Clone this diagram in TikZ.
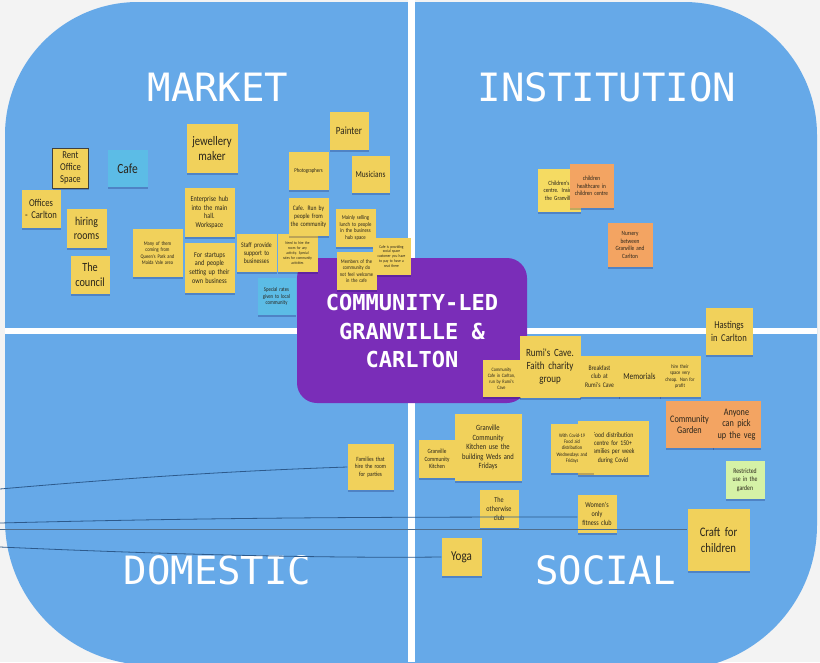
\documentclass[tikz,border=0pt]{standalone}
\usepackage{fontspec}
\setmainfont{Carlito}
\newfontfamily\handf[FakeStretch=0.82]{Carlito}
\newfontfamily\monof{DejaVu Sans Mono}
\usetikzlibrary{shadows}
\definecolor{bg}{HTML}{F3F3F3}
\definecolor{qblue}{HTML}{66A9E8}
\definecolor{purp}{HTML}{7A2DB8}
\definecolor{sy}{HTML}{F1D15B}
\definecolor{sy2}{HTML}{F5DB62}
\definecolor{so}{HTML}{F3A462}
\definecolor{sc}{HTML}{5CBCE6}
\definecolor{sg}{HTML}{D5F2A6}
\definecolor{ink}{HTML}{2A251B}
\definecolor{lnk}{HTML}{2D5A8C}
\definecolor{lnk2}{HTML}{4F6E8E}
\tikzset{
  stick/.style={rectangle, inner sep=1pt, align=center, text=ink,
    drop shadow={shadow xshift=0.6pt, shadow yshift=-2.4pt, fill=black!70!blue, opacity=0.22}},
  title/.style={text=white, font=\monof\fontsize{39}{44}\selectfont, inner sep=0pt},
  link/.style={draw=lnk, line width=0.8pt},
  linkg/.style={draw=lnk2, line width=0.8pt},
  cross/.style={draw=white}
}
\newcommand\snote[9][]{%
  \pgfmathsetmacro\nw{#4-#2}\pgfmathsetmacro\nh{#5-#3}\pgfmathsetmacro\tw{#4-#2-1}%
  \pgfmathsetmacro\nlead{#7*1.18}%
  \pgfmathsetmacro\cx{(#2+#4)/2}\pgfmathsetmacro\cy{(#3+#5)/2}%
  \node[stick, fill=#6, minimum width=\nw pt, minimum height=\nh pt, text width=\tw pt,
        font=\handf\fontsize{#7}{\nlead}\selectfont, #1] (#8) at (\cx,\cy) {#9};}
\begin{document}
\begin{tikzpicture}[x=1pt, y=-1pt]
\useasboundingbox (0,0) rectangle (820,662);
\clip (0,0) rectangle (820,662);
\fill[bg] (0,0) rectangle (820,662);
% big blue board
\fill[qblue] (5,135) .. controls (5,61.5) and (64.5,2) .. (138,2)
  -- (684,2) .. controls (757.5,2) and (817,61.5) .. (817,135)
  -- (817,525) .. controls (817,605.1) and (752.1,670) .. (672,670)
  -- (150,665) .. controls (69.9,665) and (5,600.1) .. (5,520) -- cycle;
% white cross
\draw[cross, line width=7pt] (411.5,0) -- (411.5,662);
\draw[cross, line width=6pt] (5,331) -- (817,331);
% quadrant titles
\node[title] (tmarket) at (218,87) {MARKET};
\node[title] (tinst) at (607,87) {INSTITUTION};
\node[title] (tdom) at (217.5,570.5) {DOMESTIC};
\node[title] (tsoc) at (605.5,570.5) {SOCIAL};
% centre
\node[fill=purp, rounded corners=20pt, minimum width=230pt, minimum height=145pt] (centrebox) at (412,330.5) {};
\node[text=white, font=\monof\bfseries\fontsize{22}{28.5}\selectfont, align=center, inner sep=0pt] (centre) at (412,331) {COMMUNITY-LED\\GRANVILLE \&\\CARLTON};
% MARKET notes
\snote[draw=black!75, line width=0.7pt]{53}{148}{88}{188}{sy}{10.5}{rent}{Rent\\Office\\Space}
\snote{108}{150}{147}{187}{sc}{14}{cafe}{Cafe}
\snote{22}{190}{60}{228}{sy}{10.5}{offices}{Offices\\- Carlton}
\snote{67}{209}{106}{248}{sy}{12}{hiring}{hiring\\rooms}
\snote{71}{256}{109}{294}{sy}{12.5}{council}{The\\council}
\snote{133}{229}{182}{277}{sy}{5.5}{many}{Many of them\\coming from\\Queen's Park and\\Maida Vale area}
\snote{187}{124}{237}{173}{sy}{13}{jewel}{jewellery\\maker}
\snote{185}{188}{234}{237}{sy}{7.5}{enterprise}{Enterprise hub\\into the main\\hall.\\Workspace}
\snote{185}{243}{234}{293}{sy}{7.5}{startups}{For startups\\and people\\setting up their\\own business}
\snote{237}{234}{276}{272}{sy}{7}{staff}{Staff provide\\support to\\businesses}
\snote{278}{234}{317}{272}{sy}{4.1}{needhire}{Need to hire the\\room for any\\activity. Special\\rates for community\\activities}
\snote{258}{278}{295}{315}{sc}{5.8}{special}{Special rates\\given to local\\community}
\snote{330}{112}{368}{150}{sy}{11}{painter}{Painter}
\snote{289}{152}{328}{190}{sy}{5.8}{photo}{Photographers}
\snote{352}{156}{389}{193}{sy}{9}{musicians}{Musicians}
\snote{289}{198}{328}{236}{sy}{6.8}{caferun}{Cafe. Run by\\people from\\the community}
\snote{336}{209}{375}{247}{sy}{5.8}{mainly}{Mainly selling\\lunch to people\\in the business\\hub space}
\snote{373}{238}{410}{275}{sy}{4.2}{cafeprov}{Cafe is providing\\social space\\customer you have\\to pay to have a\\seat there}
\snote{337}{252}{376}{290}{sy}{5.5}{members}{Members of the\\community do\\not feel welcome\\in the cafe}
% INSTITUTION notes
\snote{538}{169}{580}{212}{sy2}{6.4}{childctr}{Children's\\centre. Inside\\the Granville}
\snote{570}{164}{613}{208}{so}{6.4}{childhealth}{children\\healthcare in\\children centre}
\snote{608}{223}{652}{267}{so}{6.4}{nursery}{Nursery\\between\\Granville and\\Carlton}
% SOCIAL notes
\snote{520}{336}{580}{398}{sy}{11}{rumi}{Rumi's Cave.\\Faith charity\\group}
\snote{483}{360}{520}{397}{sy}{5.1}{commcafe}{Community\\Cafe in Carlton,\\run by Rumi's\\Cave}
\snote{580}{356}{619}{397}{sy}{7}{breakfast}{Breakfast\\club at\\Rumi's Cave}
\snote{619}{356}{660}{397}{sy}{9}{memorials}{Memorials}
\snote{660}{356}{700}{397}{sy}{5.4}{hirecheap}{hire their\\space very\\cheap. Non for\\profit}
\snote{706}{308}{752}{355}{sy}{10.5}{hastings}{Hastings\\in Carlton}
\snote{666}{401}{713}{448}{so}{10}{garden}{Community\\Garden}
\snote{713}{401}{760}{448}{so}{10}{anyone}{Anyone\\can pick\\up the veg}
\snote{726}{461}{764}{499}{sg}{7}{restricted}{Restricted\\use in the\\garden}
\snote{419}{440}{455}{478}{sy}{6.4}{gck}{Granville\\Community\\Kitchen}
\snote{455}{414}{521}{481}{sy}{8}{gckuse}{Granville\\Community\\Kitchen use the\\building Weds and\\Fridays}
\snote{578}{421}{648}{475}{sy}{7}{food}{Food distribution\\centre for 150+\\families per week\\during Covid}
\snote{551}{424}{593}{473}{sy}{5.3}{covid}{With Covid-19\\Food aid\\distribution\\Wednesdays and\\Fridays}
\snote{480}{490}{518}{528}{sy}{7.5}{otherwise}{The\\otherwise\\club}
\snote{578}{495}{616}{533}{sy}{7.5}{women}{Women's\\only\\fitness club}
\snote{442}{538}{481}{576}{sy}{13.5}{yoga}{Yoga}
\snote{688}{509}{749}{571}{sy}{13}{craft}{Craft for\\children}
% DOMESTIC notes
\snote{348}{444}{393}{490}{sy}{6.4}{families}{Families that\\hire the room\\for parties}
% connectors
\coordinate (e1) at (0,489);
\coordinate (e2) at (0,523);
\coordinate (e3) at (0,529);
\coordinate (e4) at (0,547);
\draw[link] (e1) .. controls (160,475) and (260,470) .. (families.west);
\draw[link] (e2) .. controls (200,518) and (350,517) .. ([yshift=-3pt]women.west);
\draw[linkg] (e3) -- (e3 -| craft.west);
\draw[link] (e4) .. controls (200,556) and (350,558) .. (yoga.west);
\end{tikzpicture}
\end{document}
